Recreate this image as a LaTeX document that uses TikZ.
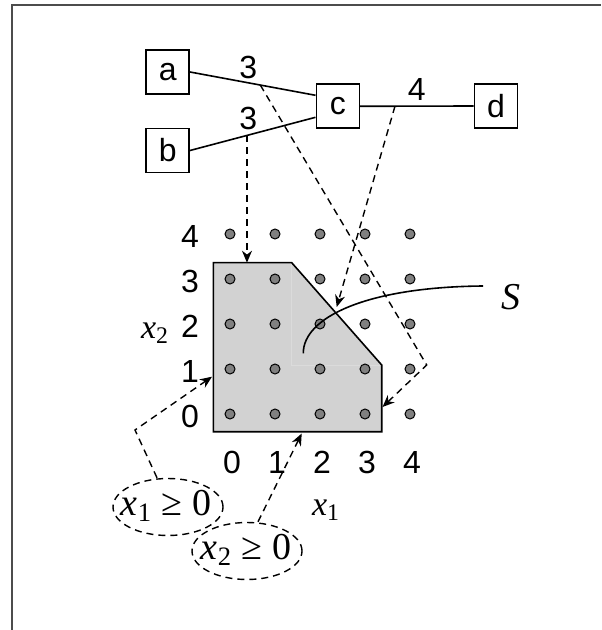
\documentclass[tikz,border=0pt]{standalone}
\usepackage{fontspec}
\usetikzlibrary{arrows.meta,shapes.geometric,calc}
\newfontfamily\lsans{Liberation Sans}
\newfontfamily\lserif{Liberation Serif}
\begin{document}
\begin{tikzpicture}[x=0.5pt,y=-0.5pt,
  box/.style={draw,line width=0.8pt,minimum width=21.5pt,minimum height=22pt,inner sep=0pt,font=\lsans\fontsize{16}{19}\selectfont},
  lbl/.style={font=\lsans\fontsize{16}{19}\selectfont,inner sep=0pt},
  mlbl/.style={font=\lserif\itshape\fontsize{17}{20}\selectfont,inner sep=0pt},
  ctext/.style={font=\lserif\fontsize{19}{22}\selectfont,inner sep=0pt},
  edgeline/.style={line width=0.8pt},
  dsh/.style={line width=0.7pt,dash pattern=on 3.5pt off 2.5pt},
  arr/.style={dsh,-{Stealth[length=6pt,width=5pt]}},
  dotmark/.style={draw,fill=gray,line width=0.5pt},
  constr/.style={ellipse,draw,dsh,minimum width=55pt,minimum height=28.5pt,inner sep=0pt},
]
\useasboundingbox (0,0) rectangle (601,630);
\draw[line width=0.85pt,color=black!70] (12,630) -- (12,5) -- (601,5);

% feasible region
\coordinate (p1) at (213.3,431.7);
\coordinate (p2) at (381.7,431.7);
\coordinate (p3) at (381.7,365);
\coordinate (p4) at (291.7,262.7);
\coordinate (p5) at (213.3,262.7);
\fill[gray!35] (p1) -- (p2) -- (p3) -- (p4) -- (p5) -- cycle;
\draw[gray!28,line width=0.4pt] (p4) -- (p4 |- p3) -- (p3);
\draw[line width=0.8pt] (p1) -- (p2) -- (p3) -- (p4) -- (p5) -- cycle;

% lattice points
\foreach \i in {0,...,4}
  \foreach \j in {0,...,4}
    \draw[dotmark] ({230+45*\i},{414-45*\j}) circle (5);

% axis labels
\foreach \j in {0,...,4}
  \node[lbl] (y\j) at (190,{416-45*\j}) {\j};
\foreach \i in {0,...,4}
  \node[lbl] (x\i) at ({232+45*\i},462) {\i};
\node[mlbl] (xtwo) at (155,333) {x\textsubscript{\upshape 2}};
\node[mlbl] (xone) at (326,510) {x\textsubscript{\upshape 1}};

% network
\node[box] (a) at (167.7,72) {a};
\node[box] (b) at (167.7,150.5) {b};
\node[box] (c) at (337.8,106.3) {c};
\node[box] (d) at (496,106) {d};
\draw[edgeline] (a.east) -- ([yshift=5.5pt]c.west) coordinate[pos=0.56] (ta);
\draw[edgeline] (b.east) -- ([yshift=-5.5pt]c.west) coordinate[pos=0.454] (tb);
\draw[edgeline] (c.east) -- (d.west) coordinate[pos=0.307] (tc);
\node[lbl] (la) at (248.3,67.5) {3};
\node[lbl] (lb) at (248.3,118) {3};
\node[lbl] (lc) at (416.7,89.5) {4};

% S
\node[font=\lserif\itshape\fontsize{19}{22}\selectfont,inner sep=0pt] (S) at (511,297) {S};
\coordinate (s0) at (303.3,353.3);
\coordinate (s1) at (483,286);
\draw[edgeline] (s0) .. controls (303,318) and (365,287) .. (s1);

% constraints
\node[constr] (e1) at (168,507) {};
\node[ctext] (t1) at (166,506) {\textit{x}\textsubscript{1} ≥ 0};
\node[constr] (e2) at (247,551) {};
\node[ctext] (t2) at (246,550) {\textit{x}\textsubscript{2} ≥ 0};

% dashed arrows
\coordinate (ha) at (426.7,365);
\coordinate (ra) at (382.5,407);
\coordinate (rd) at (336.7,307);
\coordinate (hx) at (135,430);
\coordinate (rx) at (212,376.7);
\coordinate (ry) at (301.7,433.5);
\draw[arr] (ta) -- (ha) -- (ra);
\draw[arr] (tb) -- (tb |- p5);
\draw[arr] (tc) -- (rd);
\draw[arr] ([xshift=-5.5pt]e1.north) -- (hx) -- (rx);
\draw[arr] ([xshift=5.5pt]e2.north) -- (ry);
\end{tikzpicture}
\end{document}
